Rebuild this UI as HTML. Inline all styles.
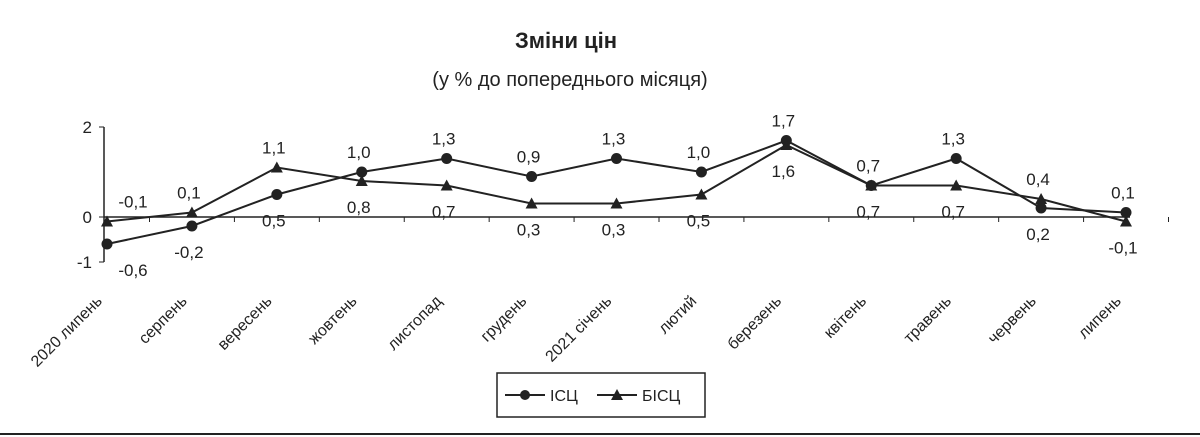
<!DOCTYPE html>
<html><head><meta charset="utf-8"><style>
html,body{margin:0;padding:0;background:#fff;}
svg{display:block;font-family:"Liberation Sans",Arial,sans-serif;}
</style></head><body>
<svg id="chart" width="1200" height="437" viewBox="0 0 1200 437">
<text x="566" y="48" text-anchor="middle" font-size="22" font-weight="bold" fill="#222">Зміни цін</text>
<text x="570" y="86" text-anchor="middle" font-size="20" fill="#222">(у % до попереднього місяця)</text>
<g id="axes"></g><g id="series"></g>
<g>
<rect x="497" y="373" width="208" height="44" fill="#fff" stroke="#222" stroke-width="1.5"/>
<g>
<line x1="505" y1="395" x2="545" y2="395" stroke="#222" stroke-width="2"/>
<circle cx="525" cy="395" r="5" fill="#222"/>
<text x="550" y="401" font-size="16" fill="#222">ІСЦ</text></g>
<g>
<line x1="597" y1="395" x2="637" y2="395" stroke="#222" stroke-width="2"/>
<polygon points="617,389 623,400 611,400" fill="#222"/>
<text x="642" y="401" font-size="16" fill="#222">БІСЦ</text></g>
</g>
<line x1="0" y1="434" x2="1200" y2="434" stroke="#222" stroke-width="2"/>
</svg>
<script>
const categories=["2020 липень","серпень","вересень","жовтень","листопад","грудень","2021 січень","лютий","березень","квітень","травень","червень","липень"];
const icsc=[-0.6,-0.2,0.5,1.0,1.3,0.9,1.3,1.0,1.7,0.7,1.3,0.2,0.1];
const bicsc=[-0.1,0.1,1.1,0.8,0.7,0.3,0.3,0.5,1.6,0.7,0.7,0.4,-0.1];
const yTicks=[2,0,-1];
const icscLabelPos=["b","b","b","a","a","a","a","a","a","a","a","b","a"];
const bicscLabelPos=["a","a","a","b","b","b","b","b","b","b","b","a","b"];
const NS="http://www.w3.org/2000/svg";
const x0=107,x1=1126,yZero=217,yUnit=45;
const xs=i=>x0+i*(x1-x0)/(categories.length-1);
const ys=v=>yZero-v*yUnit;
const axes=document.getElementById('axes'),ser=document.getElementById('series');
function mk(tag,attrs,parent){const e=document.createElementNS(NS,tag);for(const k in attrs)e.setAttribute(k,attrs[k]);parent.appendChild(e);return e;}
let ax=mk('line',{x1:104,y1:ys(2),x2:104,y2:ys(-1),stroke:'#222','stroke-width':1.5},axes);


yTicks.forEach(t=>{
 const l=mk('line',{x1:99,y1:ys(t),x2:104,y2:ys(t),stroke:'#222'},axes);
 
 
 const tx=mk('text',{x:92,y:ys(t)+6,'text-anchor':'end','font-size':17,fill:'#222'},axes);
 tx.textContent=t;
 
 
});
let xa=mk('line',{x1:104,y1:yZero,x2:1130,y2:yZero,stroke:'#222','stroke-width':1.5},axes);


categories.forEach((c,i)=>{
 const x=xs(i)+42.5;
 const l=mk('line',{x1:x,y1:yZero,x2:x,y2:yZero+5,stroke:'#222'},axes);
 
 
 const tx=xs(i)-4,ty=302;
 const t=mk('text',{x:tx,y:ty,'text-anchor':'end','font-size':16,fill:'#222',transform:`rotate(-45 ${tx} ${ty})`},axes);
 t.textContent=c;
 
 
});
function fmt(v){return v.toFixed(1).replace('.',',');}
function drawSeries(vals,name,marker,pos){
 const pts=vals.map((v,i)=>xs(i)+','+ys(v)).join(' ');
 const pl=mk('polyline',{points:pts,fill:'none',stroke:'#222','stroke-width':2},ser);
 
 
 vals.forEach((v,i)=>{
  const x=xs(i),y=ys(v);let m;
  if(marker==='c')m=mk('circle',{cx:x,cy:y,r:5.5,fill:'#222'},ser);
  else m=mk('polygon',{points:`${x},${y-6} ${x+6},${y+5} ${x-6},${y+5}`,fill:'#222'},ser);
  
  
  const lx=i===0?x+26:x-3;
  const t=mk('text',{x:lx,y:pos[i]==='a'?y-14:y+32,'text-anchor':'middle','font-size':17,fill:'#222'},ser);
  t.textContent=fmt(v);
  
  
 });
}
drawSeries(icsc,'icsc','c',icscLabelPos);
drawSeries(bicsc,'bicsc','t',bicscLabelPos);
</script>
</body></html>
